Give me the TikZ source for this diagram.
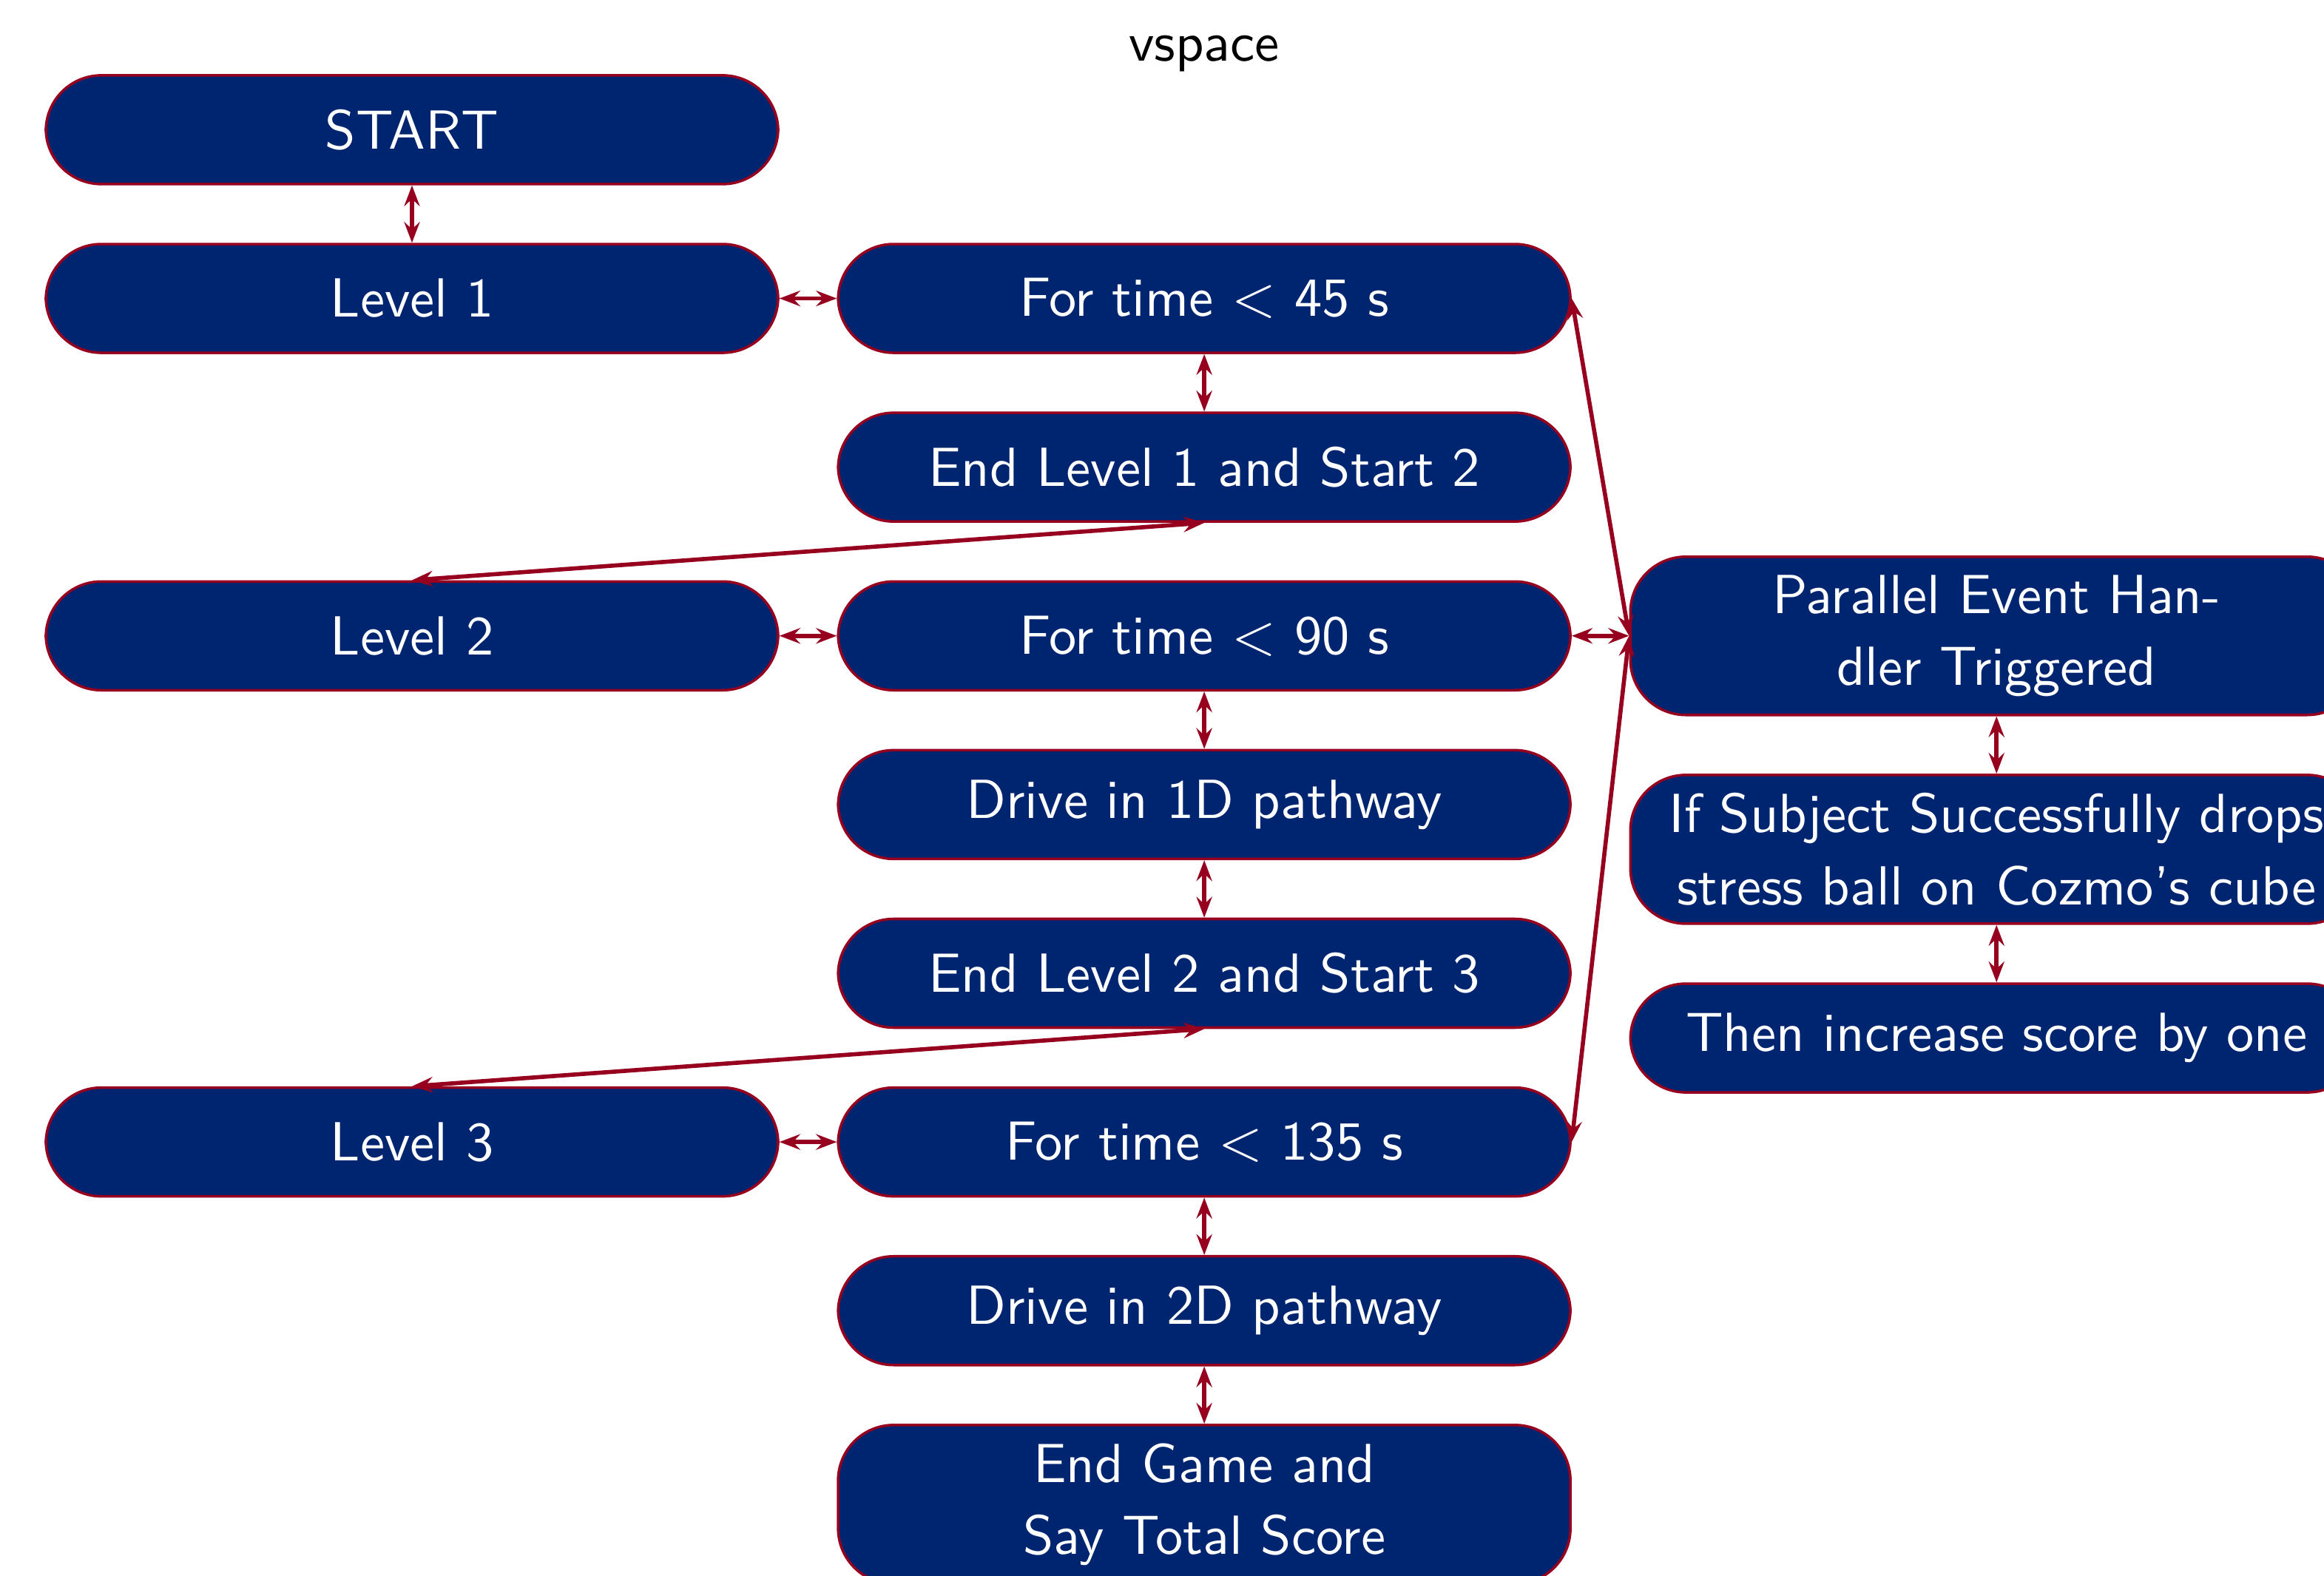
\documentclass[tikz,border=0pt]{standalone}
\usetikzlibrary{positioning,arrows.meta}
\definecolor{blockblue}{RGB}{0,37,112}
\definecolor{linkred}{RGB}{150,0,30}

\begin{document}
\begin{tikzpicture}[
		node distance=0.388cm,
		block/.style={rectangle, rounded corners=0.375cm, draw=linkred, line width=0.5pt,
			fill=blockblue, text=white, minimum width=4.95cm, minimum height=0.735cm,
			inner sep=3.5pt, align=center, font=\sffamily\fontsize{10.6}{13.9}\selectfont},
		heading/.style={font=\sffamily\fontsize{10.6}{13.9}\selectfont, anchor=base},
		link/.style={{Stealth[length=4pt,width=3pt,inset=1.4pt]}-{Stealth[length=4pt,width=3pt,inset=1.4pt]},
			draw=linkred, line width=0.8pt}
		]
		\useasboundingbox (0,0) rectangle (15.71,-10.65);
		\node[heading] (title) at (8.14,-0.41) {vspace};
		% left and middle column
		\node[block] (start) at (2.785,-0.877) {START};
		\node[block, below=of start] (level1) {Level 1};
		\node[block, right=of level1] (t45) {For time $<$ 45 s};
		\node[block, below=of t45] (end1) {End Level 1 and Start 2};
		\node[block, below=of end1] (t90) {For time $<$ 90 s};
		\node[block, left=of t90] (level2) {Level 2};
		\node[block, below=of t90] (drive1) {Drive in 1D pathway};
		\node[block, below=of drive1] (end2) {End Level 2 and Start 3};
		\node[block, below=of end2] (t135) {For time $<$ 135 s};
		\node[block, left=of t135] (level3) {Level 3};
		\node[block, below=of t135] (drive2) {Drive in 2D pathway};
		\node[block, below=of drive2] (endgame) {End Game and\\Say Total Score};
		% event handler column
		\node[block, right=of t90] (handler) {Parallel Event Han-\\dler Triggered};
		\node[block, below=of handler] (drops) {If Subject Successfully drops\\stress ball on Cozmo’s cube};
		\node[block, below=of drops] (score) {Then increase score by one};
		% connectors
		\draw[link] (start) -- (level1);
		\draw[link] (level1) -- (t45);
		\draw[link] (t45) -- (end1);
		\draw[link] (end1.south) -- (level2.north);
		\draw[link] (level2) -- (t90);
		\draw[link] (t90) -- (drive1);
		\draw[link] (drive1) -- (end2);
		\draw[link] (end2.south) -- (level3.north);
		\draw[link] (level3) -- (t135);
		\draw[link] (t135) -- (drive2);
		\draw[link] (drive2) -- (endgame);
		\draw[link] (t45.east) -- (handler.west);
		\draw[link] (t90.east) -- (handler.west);
		\draw[link] (t135.east) -- (handler.west);
		\draw[link] (handler) -- (drops);
		\draw[link] (drops) -- (score);
\end{tikzpicture}
\end{document}
